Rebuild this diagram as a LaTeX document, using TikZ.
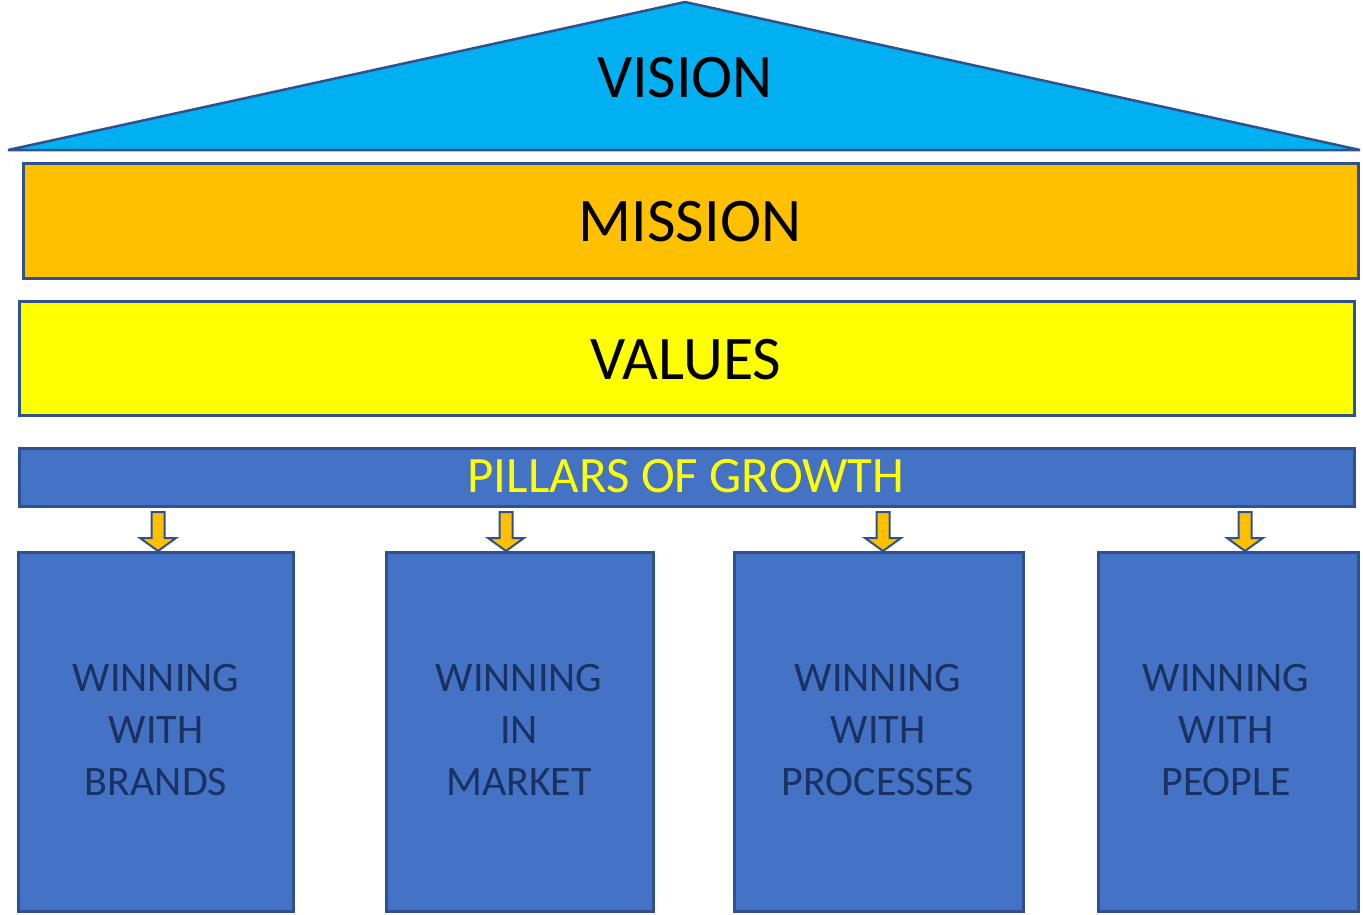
\documentclass[tikz,border=0pt]{standalone}
\usepackage{fontspec}
\setmainfont{Carlito}
\definecolor{edge}{HTML}{2F528F}
\definecolor{vis}{HTML}{00B0F0}
\definecolor{mis}{HTML}{FFC000}
\definecolor{val}{HTML}{FFFF00}
\definecolor{pil}{HTML}{4472C4}
\definecolor{navy}{HTML}{1A3263}
\tikzset{
  band/.style={draw=edge, line width=3pt, anchor=north west, inner sep=0pt},
  pillarbox/.style={draw=edge, line width=2.5pt, fill=pil, anchor=north west, inner sep=0pt},
  bigtext/.style={anchor=base, font=\fontsize{62}{70}\selectfont, text=black},
  boxtext/.style={align=center, font=\fontsize{42}{52}\selectfont, text=navy},
  blockarrow/.style={draw=edge, line width=2pt, fill=mis, line join=miter}
}
\newcommand{\downarrowat}[1]{%
  \draw[blockarrow] ($(#1)+(-6.5,0)$) -- ++(13,0) -- ++(0,26) -- ++(11.5,0)
    -- ($(#1)+(0,39)$) -- ($(#1)+(-18,26)$) -- ++(11.5,0) -- cycle;}
\usetikzlibrary{calc}
\begin{document}
\begin{tikzpicture}[x=1pt,y=-1pt]
\useasboundingbox[fill=white] (0,0) rectangle (1363,914);
% roof
\draw[draw=edge, line width=2.5pt, fill=vis, line join=bevel] (8,150) -- (685,2) -- (1360,150) -- cycle;
\node[bigtext] (vision) at (685,97) {VISION};
% mission
\node[band, fill=mis, minimum width=1335, minimum height=115] (missionbox) at (22,162) {};
\node[bigtext] (mission) at (690,241) {MISSION};
% values
\node[band, fill=val, minimum width=1335, minimum height=114] (valuesbox) at (18,300) {};
\node[bigtext] (values) at (686,379) {VALUES};
% pillars bar
\node[pillarbox, minimum width=1335, minimum height=58] (pillars) at (18,447) {};
\node[anchor=base, font=\fontsize{51}{60}\selectfont, text=val] (pillarstext) at (686,492) {PILLARS OF GROWTH};
% boxes
\node[pillarbox, minimum width=275, minimum height=359] (b1) at (17,551) {};
\node[pillarbox, minimum width=267, minimum height=359] (b2) at (385,551) {};
\node[pillarbox, minimum width=289, minimum height=359] (b3) at (733,551) {};
\node[pillarbox, minimum width=260, minimum height=359] (b4) at (1097,551) {};
\node[boxtext] (t1) at (156,730) {WINNING\\WITH\\BRANDS};
\node[boxtext] (t2) at (519,730) {WINNING\\IN\\MARKET};
\node[boxtext] (t3) at (878,730) {WINNING\\WITH\\PROCESSES};
\node[boxtext] (t4) at (1226,730) {WINNING\\WITH\\PEOPLE};
% arrows
\coordinate (a1) at (158,512);
\coordinate (a2) at (506,512);
\coordinate (a3) at (883,512);
\coordinate (a4) at (1245,512);
\downarrowat{a1}
\downarrowat{a2}
\downarrowat{a3}
\downarrowat{a4}
\end{tikzpicture}
\end{document}
